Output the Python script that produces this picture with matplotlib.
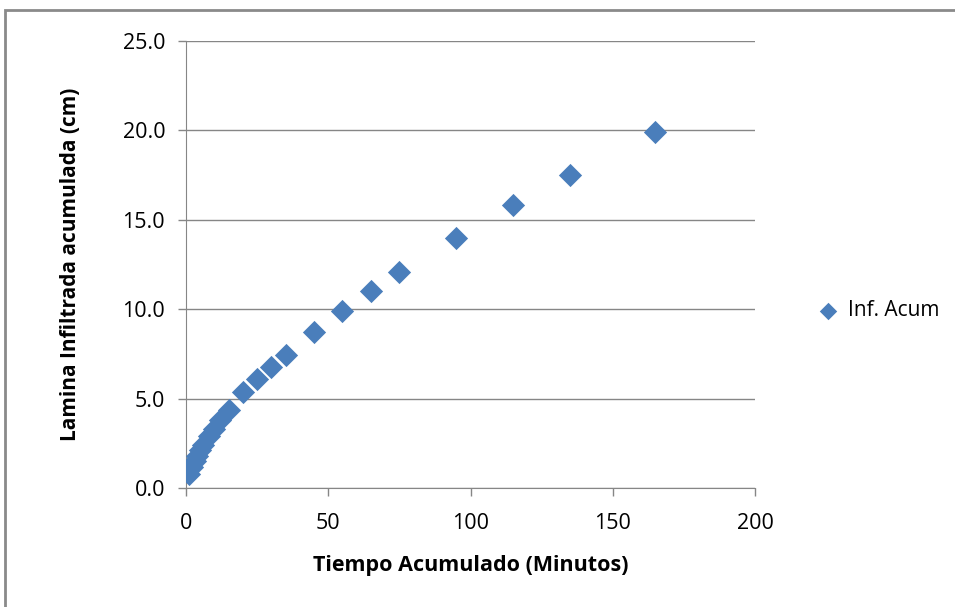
import matplotlib
matplotlib.use("Agg")
import matplotlib.pyplot as plt
from matplotlib.patches import Rectangle

# tiempo acumulado (min) y lamina infiltrada acumulada (cm)
tiempo = [1, 2, 3, 4, 5, 6, 8, 10, 12, 15, 20, 25, 30, 35, 45, 55, 65, 75, 95, 115, 135, 165]
lamina = [0.8, 1.2, 1.5, 1.8, 2.1, 2.4, 2.9, 3.3, 3.8, 4.35, 5.35, 6.1, 6.75, 7.45, 8.7, 9.9,
          11.0, 12.1, 14.0, 15.8, 17.5, 19.9]

x_ticks = [0, 50, 100, 150, 200]
y_ticks = [0, 5, 10, 15, 20, 25]

plt.rcParams["font.family"] = ["Open Sans", "DejaVu Sans"]

fig = plt.figure(figsize=(9.55, 6.07), dpi=100)
fig.patches.append(Rectangle((5 / 955, -0.05), 1.2, (597 / 607) + 0.05,
                             transform=fig.transFigure, fill=False,
                             edgecolor="#8a8a8a", linewidth=2))

ax = fig.add_axes([186 / 955, 119 / 607, 569 / 955, 447 / 607])
ax.scatter(tiempo, lamina, marker="D", s=140, color="#4a7ebb",
           linewidths=0, zorder=3, label="Inf. Acum")

ax.set_xlim(0, 200)
ax.set_ylim(0, 25)
ax.set_xticks(x_ticks)
ax.set_yticks(y_ticks)
ax.set_yticklabels([f"{v:.1f}" for v in y_ticks])
ax.tick_params(labelsize=15.5, colors="#868686", labelcolor="#000000", length=6, width=1)
ax.tick_params(axis="x", pad=12)
ax.tick_params(axis="y", pad=9)

ax.grid(axis="y", color="#868686", linewidth=1)
ax.set_axisbelow(True)
for side in ["top", "right"]:
    ax.spines[side].set_visible(False)
for side in ["left", "bottom"]:
    ax.spines[side].set_color("#868686")

ax.set_xlabel("Tiempo Acumulado (Minutos)", fontsize=15.5, fontweight="bold", labelpad=15)
ax.set_ylabel("Lamina Infiltrada acumulada (cm)", fontsize=15, fontweight="bold", labelpad=30)

ax.legend(loc="center left", bbox_to_anchor=(1.058, 0.396), frameon=False,
          fontsize=15, handletextpad=0.0, markerscale=0.75)

fig.savefig("out.png", dpi=100)
